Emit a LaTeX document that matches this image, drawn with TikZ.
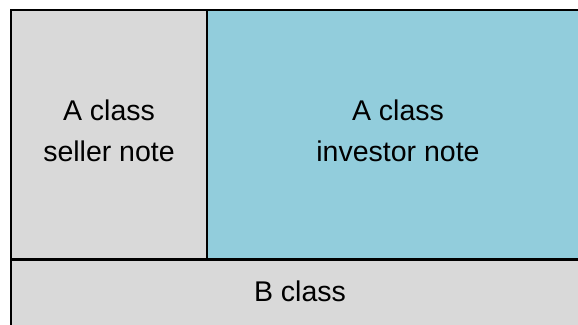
\documentclass[tikz,border=0pt]{standalone}
\usepackage{fontspec}
\setmainfont{Liberation Sans}
\definecolor{cellgray}{HTML}{D9D9D9}
\definecolor{cellblue}{HTML}{92CDDC}
\tikzset{
  cell/.style={draw=black, line width=2.4pt, rectangle, inner sep=0pt, outer sep=0pt},
  label text/.style={align=center, inner sep=0pt, font=\fontsize{28.5}{41}\selectfont, text=black}
}
\begin{document}
\begin{tikzpicture}[x=1pt,y=1pt]
\useasboundingbox (0,0) rectangle (578,324);
\clip (0,0) rectangle (578,324);
\fill[white] (0,0) rectangle (578,324);
% cells
\node[cell, fill=cellgray, minimum width=196pt, minimum height=249.5pt] (seller) at (109,189.25) {};
\node[cell, fill=cellblue, minimum width=382pt, minimum height=249.5pt] (investor) at (398,189.25) {};
\node[cell, fill=cellgray, minimum width=578pt, minimum height=70.5pt] (bclass) at (300,29.25) {};
% texts
\node[label text] (sellertxt) at ([yshift=4pt]seller.center) {A class\\seller note};
\node[label text] (investortxt) at ([yshift=4pt]investor.center) {A class\\investor note};
\node[label text] (btxt) at ([yshift=3.5pt]bclass.center) {B class};
\end{tikzpicture}
\end{document}
